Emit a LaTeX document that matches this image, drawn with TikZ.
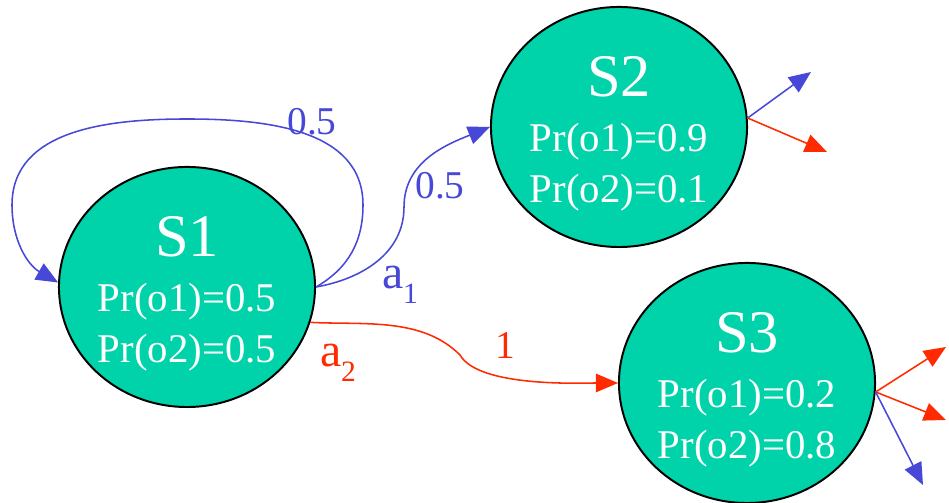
\documentclass[tikz,border=0pt]{standalone}
\usepackage{fontspec}
\setmainfont{Liberation Serif}
\usepackage{xcolor}
\definecolor{state}{HTML}{00D2AA}
\definecolor{blue1}{HTML}{4848D8}
\definecolor{red1}{HTML}{FF2A00}
\usetikzlibrary{arrows.meta,shapes.geometric}
\newcommand{\stname}[1]{{\fontsize{43}{43}\selectfont #1}\\[3.5pt]}
\newcommand{\lowidx}[1]{\raisebox{-0.32em}{\fontsize{21}{21}\selectfont #1}}
\tikzset{
  statenode/.style = {ellipse, draw=black, line width=1.4pt, fill=state,
                      text=white, minimum width=6.4cm, minimum height=6cm,
                      inner sep=0pt, align=center, text height=110pt,
                      text depth=3.3pt, font=\fontsize{29}{35.6}\selectfont},
  plab/.style      = {inner sep=0pt, font=\fontsize{28}{28}\selectfont},
  alab/.style      = {inner sep=0pt, font=\fontsize{34}{34}\selectfont},
  barr/.style      = {-{Triangle[length=5.5mm,width=4.6mm]}, line width=1.1pt, draw=blue1},
  rarr/.style      = {-{Triangle[length=5.5mm,width=4.6mm]}, line width=1.1pt, draw=red1}
}

\begin{document}
\begin{tikzpicture}[x=0.025cm, y=0.025cm]
  \useasboundingbox (0,0) rectangle (949,503);
  \node[statenode] (s1) at (187,216) {\stname{S1}Pr(o1)=0.5\\Pr(o2)=0.5};
  \node[statenode] (s2) at (619,376) {\stname{S2}Pr(o1)=0.9\\Pr(o2)=0.1};
  \node[statenode] (s3) at (747,120) {\stname{S3}Pr(o1)=0.2\\Pr(o2)=0.8};

  % action a1
  \draw[barr] (s1.east) to[out=30,in=-90] (363,298) to[out=90,in=0] (187,384)
              to[out=180,in=90] (12,298) to[out=-90,in=150] (s1.178);
  \draw[barr] (s1.east) to[out=10,in=-90] (404,296) to[out=90,in=202] (s2.west);
  \node[plab, text=blue1] (l11) at (312,381) {0.5};
  \node[plab, text=blue1] (l12) at (440,317) {0.5};
  \node[alab, text=blue1] (la1) at (400,218) {a\lowidx{1}};

  % action a2
  \draw[rarr] (s1.-16) to[out=-3,in=135,looseness=0.9] (460,148)
              to[out=-60,in=180,looseness=0.6] (s3.west);
  \node[plab, text=red1] (l21) at (505,157) {1};
  \node[alab, text=red1] (la2) at (338,140) {a\lowidx{2}};

  % outgoing
  \coordinate (s2u) at (811,431);
  \coordinate (s2d) at (827,351);
  \coordinate (s3u) at (946,156);
  \coordinate (s3d) at (946,83);
  \coordinate (s3b) at (923,18);
  \foreach \a/\b/\s in {s2.4/s2u/barr, s2.4/s2d/rarr, s3.-4/s3u/rarr,
                        s3.-4/s3d/rarr, s3.-4/s3b/barr}
    \draw[\s] (\a) -- (\b);
\end{tikzpicture}
\end{document}
